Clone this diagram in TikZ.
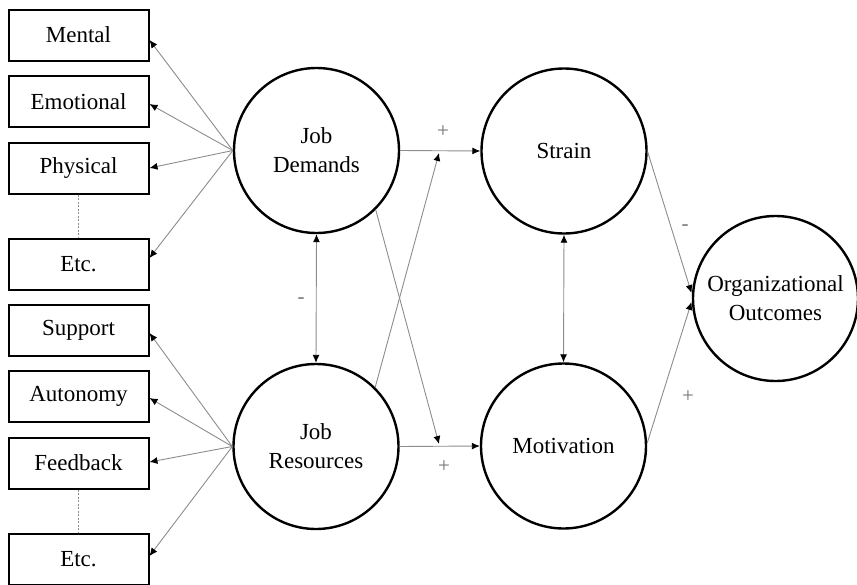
\documentclass[tikz,border=0pt]{standalone}
\usepackage{fontspec}
\setmainfont{Liberation Serif}
\usetikzlibrary{arrows.meta,calc}
\begin{document}
\begin{tikzpicture}[x=1pt,y=-1pt,
  box/.style={draw,line width=2pt,minimum width=140pt,minimum height=51pt,inner sep=0pt,font=\fontsize{23}{29}\selectfont},
  latent/.style={circle,draw,line width=2.4pt,minimum size=165pt,inner sep=0pt,align=center,font=\fontsize{23}{29}\selectfont},
  tipk/.style={-{Latex[length=8pt,width=7pt,color=black]}},
  conn/.style={draw=black!45,line width=0.9pt,tipk},
  both/.style={draw=black!45,line width=0.9pt,{Latex[length=8pt,width=7pt,color=black]}-{Latex[length=8pt,width=7pt,color=black]}},
  dots/.style={draw=black!45,line width=0.8pt,dash pattern=on 2pt off 1.5pt},
  sign/.style={text=black!55,inner sep=0pt,font=\fontsize{21}{24}\selectfont}
]
\useasboundingbox (0,0) rectangle (857,584);
\clip (0,0) rectangle (857,584);

% indicator boxes
\node[box] (mental)   at (78.5,35)    {Mental};
\node[box] (emot)     at (78.5,101.5) {Emotional};
\node[box] (phys)     at (78.5,168)   {Physical};
\node[box] (etcA)     at (78.5,264)   {Etc.};
\node[box] (support)  at (78.5,330)   {Support};
\node[box] (auton)    at (78.5,396.5) {Autonomy};
\node[box] (feedb)    at (78.5,463)   {Feedback};
\node[box] (etcB)     at (78.5,559)   {Etc.};

% latent variables
\node[latent] (jd)  at (316.5,150.5) {Job\\Demands};
\node[latent] (jr)  at (316,446.5)   {Job\\Resources};
\node[latent] (st)  at (564,151)     {Strain};
\node[latent] (mo)  at (563.5,446)   {Motivation};
\node[latent] (org) at (775.5,298.5) {Organizational\\Outcomes};

% dotted links between indicators
\draw[dots] (phys.south) -- (etcA.north);
\draw[dots] (feedb.south) -- (etcB.north);

% demands -> indicators
\draw[conn] (jd.west) -- ($(mental.east)+(0,5)$);
\draw[conn] (jd.west) -- ($(emot.east)+(0,2.5)$);
\draw[conn] (jd.west) -- (phys.east);
\draw[conn] (jd.west) -- ($(etcA.east)+(0,-6)$);

% resources -> indicators
\draw[conn] (jr.west) -- ($(support.east)+(0,3)$);
\draw[conn] (jr.west) -- ($(auton.east)+(0,1.5)$);
\draw[conn] (jr.west) -- ($(feedb.east)+(0,-1)$);
\draw[conn] (jr.west) -- ($(etcB.east)+(0,-3)$);

% structural paths
\coordinate (j1) at (439,153);
\coordinate (j2) at (439,444);
\draw[conn] (jd.east) -- (st.west);
\draw[conn] (jr.east) -- (mo.west);
\draw[conn] (jr.45) -- (j1);
\draw[conn] (jd.-45) -- (j2);
\draw[both] (jd.south) -- (jr.north);
\draw[both] (st.south) -- (mo.north);
\coordinate (o1) at (691.5,293);
\coordinate (o2) at (691.5,302);
\draw[conn] ($(st.east)+(0,1)$) -- (o1);
\draw[conn] ($(mo.east)+(0,-3)$) -- (o2);

% signs
\node[sign] (s1) at (443,132) {+};
\node[sign] (s2) at (444,467) {+};
\node[sign] (s3) at (301,301) {-};
\node[sign] (s4) at (685,228) {-};
\node[sign] (s5) at (688,397) {+};
\end{tikzpicture}
\end{document}
